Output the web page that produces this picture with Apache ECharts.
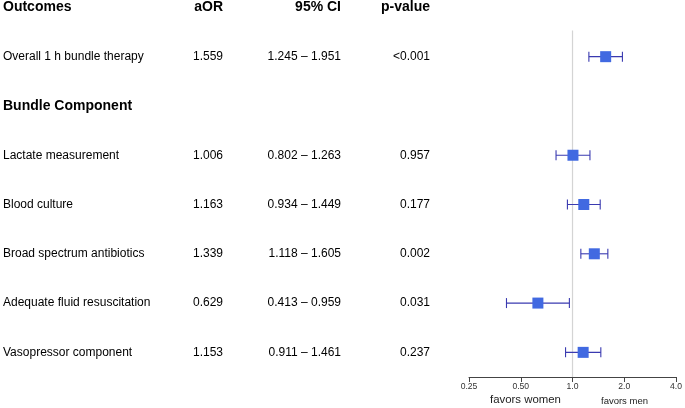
<!DOCTYPE html>
<html><head><meta charset="utf-8">
<script src="https://cdn.jsdelivr.net/npm/echarts@6/dist/echarts.min.js"></script>
<style>html,body{margin:0;padding:0;background:#fff}#c{width:685px;height:408px}</style>
</head><body><div id="c"></div>
<script>
var headers = ['Outcomes', 'aOR', '95% CI', 'p-value'];
var outcomes = ['Overall 1 h bundle therapy', 'Lactate measurement', 'Blood culture', 'Broad spectrum antibiotics', 'Adequate fluid resuscitation', 'Vasopressor component'];
var rows = [1, 3, 4, 5, 6, 7];
var sectionLabel = 'Bundle Component';
var sectionRow = 2;
var aOR = [1.559, 1.006, 1.163, 1.339, 0.629, 1.153];
var ciLow = [1.245, 0.802, 0.934, 1.118, 0.413, 0.911];
var ciHigh = [1.951, 1.263, 1.449, 1.605, 0.959, 1.461];
var pValues = ['<0.001', '0.957', '0.177', '0.002', '0.031', '0.237'];
var xTicks = [0.25, 0.5, 1, 2, 4];
var xTickLabels = ['0.25', '0.50', '1.0', '2.0', '4.0'];

var FONT = 'Liberation Sans, Arial, sans-serif';
var colX = [3, 223, 341, 430];

var chart = echarts.init(document.getElementById('c'), null, {renderer: 'canvas'});

function textPt(x, y, txt, align, bold, size) {
  return {value: [x, y], label: {show: true, formatter: txt, position: 'inside', align: align,
    verticalAlign: 'middle', fontFamily: FONT, fontSize: size || 12, fontWeight: bold ? 'bold' : 'normal', color: '#000', opacity: 1}};
}
var textData = [];
headers.forEach(function (h, i) { textData.push(textPt(colX[i], 0, h, i === 0 ? 'left' : 'right', true, 14)); });
textData.push(textPt(colX[0], sectionRow, sectionLabel, 'left', true, 14));
outcomes.forEach(function (o, i) {
  var r = rows[i];
  textData.push(textPt(colX[0], r, o, 'left', false));
  textData.push(textPt(colX[1], r, aOR[i].toFixed(3), 'right', false));
  textData.push(textPt(colX[2], r, ciLow[i].toFixed(3) + ' \u2013 ' + ciHigh[i].toFixed(3), 'right', false));
  textData.push(textPt(colX[3], r, pValues[i], 'right', false));
});

var yMin = -0.15, yMax = 7.5;

var option = {
  animation: false,
  grid: [
    {left: 469, right: 8, top: 0, bottom: 31},
    {left: 0, right: 0, top: 0, bottom: 31}
  ],
  xAxis: [
    {gridIndex: 0, type: 'log', logBase: 2, min: 0.25, max: 4, position: 'bottom',
     axisLine: {show: true, onZero: false, lineStyle: {color: '#444', width: 1}},
     axisTick: {show: true, length: 5, lineStyle: {color: '#444'}},
     splitLine: {show: false}, minorTick: {show: false},
     axisLabel: {fontFamily: FONT, fontSize: 8.6, color: '#333', margin: 5,
       formatter: function (v) { var k = xTicks.indexOf(+(+v).toFixed(4)); return k >= 0 ? xTickLabels[k] : ''; }}},
    {gridIndex: 1, type: 'value', min: 0, max: 685, show: false}
  ],
  yAxis: [
    {gridIndex: 0, type: 'value', inverse: true, min: yMin, max: yMax, show: false},
    {gridIndex: 1, type: 'value', inverse: true, min: yMin, max: yMax, show: false}
  ],
  graphic: [
    {type: 'text', left: 490, top: 394, style: {text: 'favors women', font: '11.4px ' + FONT, fill: '#222'}},
    {type: 'text', left: 601, top: 396, style: {text: 'favors men', font: '9.5px ' + FONT, fill: '#222'}}
  ],
  series: [
    {type: 'line', xAxisIndex: 0, yAxisIndex: 0, data: [[1, 0.47], [1, yMax]], symbol: 'none',
     lineStyle: {color: '#d4d4d4', width: 1.2}, silent: true, z: 1},
    {type: 'custom', xAxisIndex: 0, yAxisIndex: 0, z: 2,
     data: rows.map(function (r, i) { return [ciLow[i], ciHigh[i], r]; }),
     renderItem: function (params, api) {
       var a = api.coord([api.value(0), api.value(2)]);
       var b = api.coord([api.value(1), api.value(2)]);
       var h = 5;
       var st = {stroke: '#3a3ab0', lineWidth: 1.1};
       return {type: 'group', children: [
         {type: 'line', shape: {x1: a[0], y1: a[1], x2: b[0], y2: b[1]}, style: st},
         {type: 'line', shape: {x1: a[0], y1: a[1] - h, x2: a[0], y2: a[1] + h}, style: st},
         {type: 'line', shape: {x1: b[0], y1: b[1] - h, x2: b[0], y2: b[1] + h}, style: st}
       ]};
     }},
    {type: 'scatter', xAxisIndex: 0, yAxisIndex: 0, z: 3, symbol: 'rect', symbolSize: 11,
     itemStyle: {color: '#4169e1', opacity: 1},
     data: rows.map(function (r, i) { return [aOR[i], r]; })},
    {type: 'scatter', xAxisIndex: 1, yAxisIndex: 1, symbolSize: 0, silent: true,
     itemStyle: {opacity: 1}, data: textData}
  ]
};
chart.setOption(option);
</script></body></html>
